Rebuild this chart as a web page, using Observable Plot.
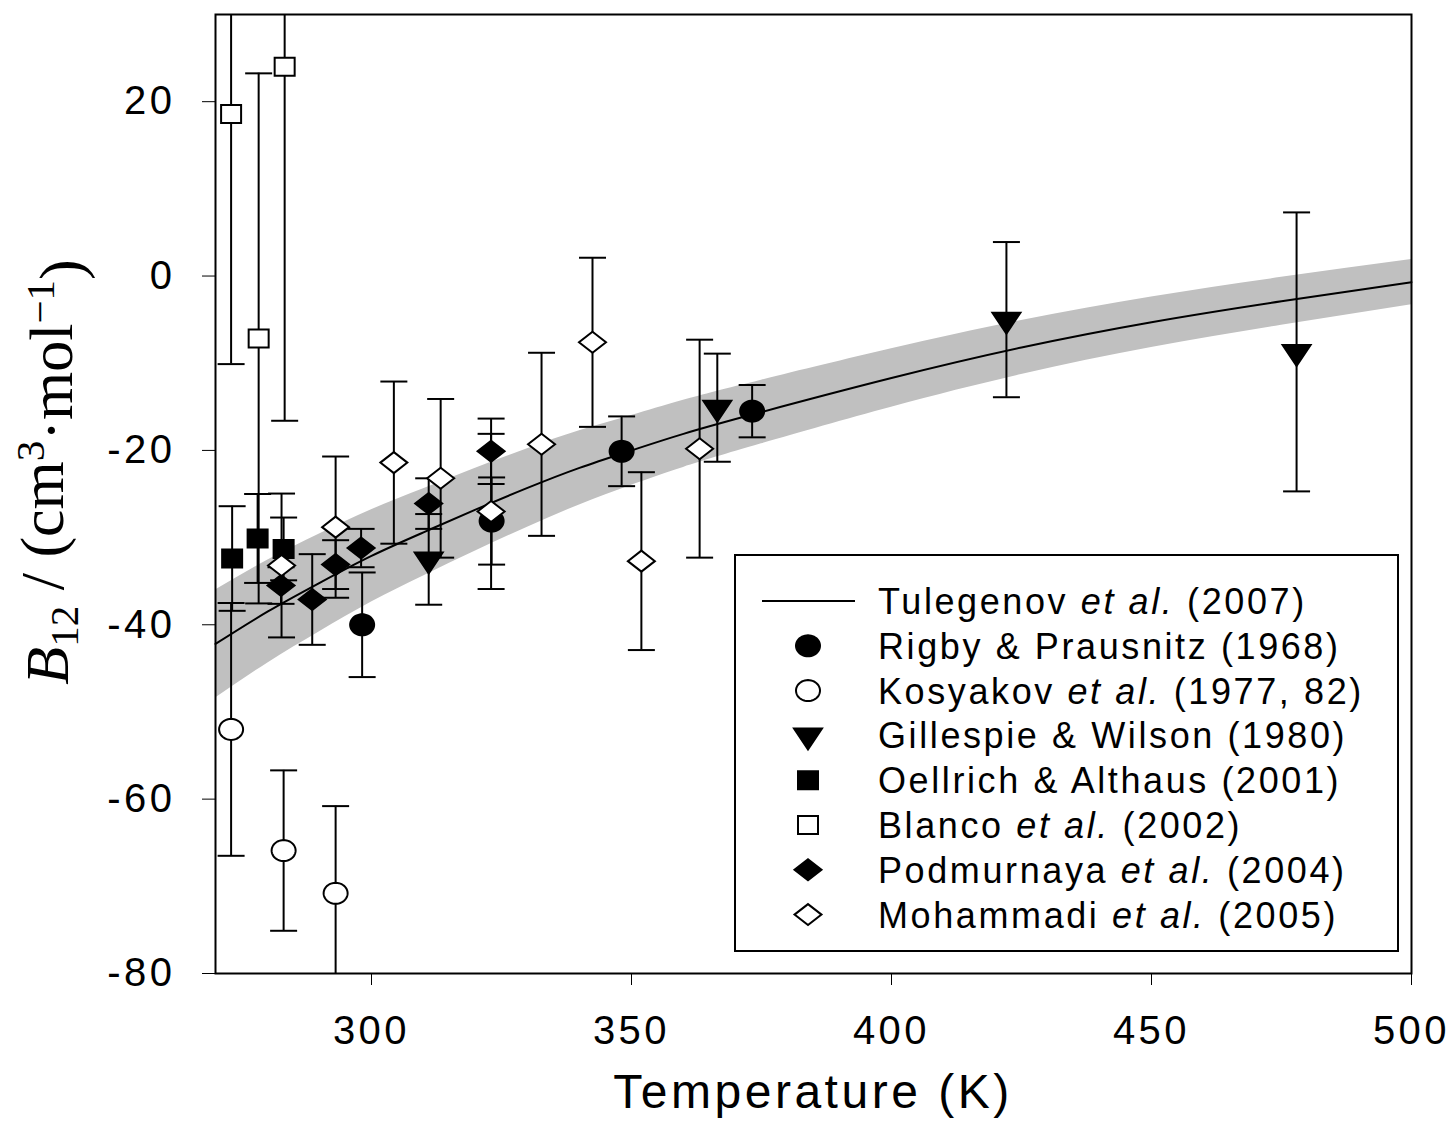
<!DOCTYPE html>
<html><head><meta charset="utf-8">
<script src="https://cdn.jsdelivr.net/npm/d3@7"></script>
<script src="https://cdn.jsdelivr.net/npm/@observablehq/plot@0.6"></script>
<style>
body{margin:0;background:#fff;}
#chart svg{display:block;}
</style></head><body><div id="chart"></div>
<script>
// ---- data ----
const xTicks = [300, 350, 400, 450, 500];
const yTicks = [-80, -60, -40, -20, 0, 20];

const curveT  = [270, 280, 290, 300, 310, 320, 330, 340, 350, 360, 375, 400, 425, 450, 475, 500];
const curveB  = [-42.2, -38.5, -35.2, -32.1, -29.4, -26.8, -24.3, -22.0, -20.0, -18.1, -15.6, -11.7, -8.2, -5.3, -2.9, -0.7];
const curveLo = [-48.4, -44.4, -40.8, -37.4, -34.4, -31.55, -28.8, -26.25, -24.0, -21.95, -19.25, -15.05, -11.3, -8.2, -5.65, -3.3];
const curveHi = [-36.0, -32.6, -29.6, -26.8, -24.4, -22.05, -19.8, -17.75, -16.0, -14.25, -11.95, -8.35, -5.1, -2.4, -0.15, 1.9];

const rigbyT = [298.2, 323.1, 348.1, 373.2];
const rigbyB = [-40.0, -28.1, -20.1, -15.5];
const rigbyE = [6.0, 5.0, 4.0, 3.0];

const kosyakovT = [273.0, 283.1, 293.1];
const kosyakovB = [-52.0, -65.9, -70.8];
const kosyakovE = [14.5, 9.2, 10.0];

const gillespieT = [311.0, 366.5, 422.1, 477.9];
const gillespieB = [-32.5, -15.1, -5.0, -8.7];
const gillespieE = [5.2, 6.2, 8.9, 16.0];

const oellrichT = [273.2, 278.1, 283.1];
const oellrichB = [-32.4, -30.1, -31.3];
const oellrichE = [6.0, 5.1, 3.6];

const blancoT = [273.0, 278.3, 283.3];
const blancoB = [18.6, -7.15, 24.0];
const blancoE = [28.7, 30.4, 40.6];

const podmurnayaT = [282.6, 288.6, 293.1, 298.0, 311.0, 323.0];
const podmurnayaB = [-35.5, -37.1, -33.1, -31.2, -26.1, -20.1];
const podmurnayaE = [2.1, 5.2, 2.8, 2.2, 2.9, 3.75];

const mohammadiT = [282.7, 293.1, 304.3, 313.3, 323.0, 332.7, 342.5, 351.9, 363.1];
const mohammadiB = [-33.2, -28.8, -21.4, -23.2, -27.0, -19.3, -7.6, -32.7, -19.8];
const mohammadiE = [8.25, 8.1, 9.3, 9.1, 8.9, 10.5, 9.7, 10.2, 12.5];

const seriesNames = [
  ["Tulegenov ", "et al.", " (2007)"],
  ["Rigby & Prausnitz (1968)", "", ""],
  ["Kosyakov ", "et al.", " (1977, 82)"],
  ["Gillespie & Wilson (1980)", "", ""],
  ["Oellrich & Althaus (2001)", "", ""],
  ["Blanco ", "et al.", " (2002)"],
  ["Podmurnaya ", "et al.", " (2004)"],
  ["Mohammadi ", "et al.", " (2005)"]
];

// ---- symbols ----
function poly(pts) {
  return {draw(ctx) {
    ctx.moveTo(pts[0][0], pts[0][1]);
    for (let i = 1; i < pts.length; i++) ctx.lineTo(pts[i][0], pts[i][1]);
    ctx.closePath();
  }};
}
const symCircle = poly(d3.range(48).map(i => [12 * Math.cos(2 * Math.PI * i / 48), 10.5 * Math.sin(2 * Math.PI * i / 48)]));
const symSquare = poly([[-10, -9], [10, -9], [10, 9], [-10, 9]]);
const symDiamond = poly([[0, -10.5], [13.5, 0], [0, 10.5], [-13.5, 0]]);
const symTri = poly([[-14, -7], [14, -7], [0, 14]]);
const symCap = {draw(ctx) { ctx.moveTo(-13.5, 0); ctx.lineTo(13.5, 0); }};

const series = [
  {T: rigbyT, B: rigbyB, E: rigbyE, sym: symCircle, fill: "black"},
  {T: kosyakovT, B: kosyakovB, E: kosyakovE, sym: symCircle, fill: "white"},
  {T: gillespieT, B: gillespieB, E: gillespieE, sym: symTri, fill: "black"},
  {T: oellrichT, B: oellrichB, E: oellrichE, sym: symSquare, fill: "black"},
  {T: blancoT, B: blancoB, E: blancoE, sym: symSquare, fill: "white"},
  {T: podmurnayaT, B: podmurnayaB, E: podmurnayaE, sym: symDiamond, fill: "black"},
  {T: mohammadiT, B: mohammadiB, E: mohammadiE, sym: symDiamond, fill: "white"}
];
series.forEach(s => s.rows = s.T.map((t, i) => ({T: t, B: s.B[i], E: s.E[i]})));
const allRows = series.flatMap(s => s.rows);
const yDomain = [-80, 30];
const caps = allRows.flatMap(d => [d.B + d.E, d.B - d.E].map(y => ({T: d.T, y})))
  .filter(d => d.y >= yDomain[0] && d.y <= yDomain[1]);
const curveRows = curveT.map((t, i) => ({T: t, B: curveB[i], lo: curveLo[i], hi: curveHi[i]}));

const FONT = "'Liberation Sans', Arial, Helvetica, sans-serif";

const chart = Plot.plot({
  width: 1454, height: 1122,
  marginLeft: 215, marginRight: 43, marginTop: 14, marginBottom: 149,
  style: {fontFamily: FONT, fontSize: "40px", letterSpacing: "3.5px", color: "black", background: "white"},
  x: {domain: [270, 500], ticks: xTicks, tickSize: 12, tickPadding: 30, label: null, tickFormat: d => String(d)},
  y: {domain: yDomain, ticks: yTicks, tickSize: 13, tickPadding: 27, label: null, tickFormat: d => String(d), clamp: true},
  marks: [
    Plot.areaY(curveRows, {x: "T", y1: "lo", y2: "hi", fill: "#c0c0c0", curve: "natural"}),
    Plot.line(curveRows, {x: "T", y: "B", stroke: "black", strokeWidth: 2, curve: "natural"}),
    Plot.ruleX(allRows, {x: "T", y1: d => d.B - d.E, y2: d => d.B + d.E, stroke: "black", strokeWidth: 2}),
    Plot.dot(caps, {x: "T", y: "y", symbol: symCap, fill: "none", stroke: "black", strokeWidth: 2}),
    ...series.map(s => Plot.dot(s.rows, {x: "T", y: "B", symbol: s.sym, fill: s.fill, stroke: "black", strokeWidth: 2})),
    Plot.frame({stroke: "black", strokeWidth: 2})
  ]
});
document.getElementById("chart").appendChild(chart);

// ---- axis titles and legend ----
const svg = d3.select(chart);
svg.append("text")
  .attr("x", 813).attr("y", 1108)
  .attr("text-anchor", "middle")
  .attr("style", `font-family:${FONT};font-size:48px;letter-spacing:3.5px;fill:black`)
  .text("Temperature (K)");

const yl = svg.append("text")
  .attr("transform", "translate(68,472) rotate(-90)")
  .attr("text-anchor", "middle")
  .attr("style", "font-family:'Liberation Serif','Times New Roman',serif;font-size:62px;letter-spacing:0px;fill:black");
yl.append("tspan").attr("font-style", "italic").text("B");
yl.append("tspan").attr("dy", "0.25em").attr("font-size", "41px").text("12");
yl.append("tspan").attr("dy", "-0.25em").text(" / (cm");
yl.append("tspan").attr("dy", "-0.45em").attr("font-size", "41px").text("3");
yl.append("tspan").attr("dy", "0.45em").text("·mol");
yl.append("tspan").attr("dy", "-0.45em").attr("font-size", "41px").text("−1");
yl.append("tspan").attr("dy", "0.45em").text(")");

const leg = svg.append("g");
leg.append("rect").attr("x", 735).attr("y", 555).attr("width", 663).attr("height", 396)
  .attr("fill", "white").attr("stroke", "black").attr("stroke-width", 2);
const rowY = i => 601 + i * 44.8;
leg.append("line").attr("x1", 762).attr("x2", 855).attr("y1", rowY(0)).attr("y2", rowY(0))
  .attr("stroke", "black").attr("stroke-width", 2);
series.forEach((s, i) => {
  const p = d3.path(); s.sym.draw(p);
  leg.append("path").attr("d", p.toString())
    .attr("transform", `translate(808,${rowY(i + 1)})`)
    .attr("fill", s.fill).attr("stroke", "black").attr("stroke-width", 2);
});
seriesNames.forEach((parts, i) => {
  const t = leg.append("text").attr("x", 878).attr("y", rowY(i) + 13)
    .attr("text-anchor", "start")
    .attr("style", `font-family:${FONT};font-size:36px;letter-spacing:2.6px;fill:black`);
  t.append("tspan").text(parts[0]);
  if (parts[1]) t.append("tspan").attr("font-style", "italic").text(parts[1]);
  if (parts[2]) t.append("tspan").text(parts[2]);
});
</script></body></html>
